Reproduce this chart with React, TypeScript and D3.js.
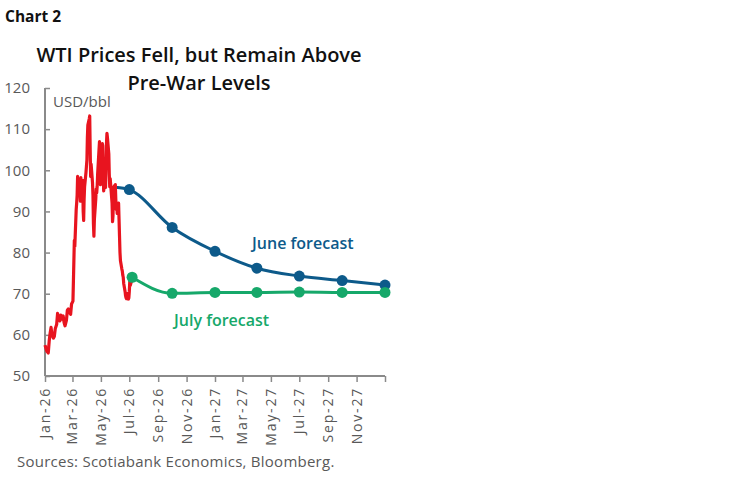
import React, { useEffect, useRef } from 'react';
import * as d3 from 'd3';

// WTI spot, USD/bbl
const wtiDates = [
  '2026-01-01','2026-01-05','2026-01-08','2026-01-10','2026-01-12','2026-01-14','2026-01-16','2026-01-19',
  '2026-01-21','2026-01-23','2026-01-26','2026-01-28','2026-01-30','2026-02-02','2026-02-04','2026-02-06',
  '2026-02-09','2026-02-11','2026-02-13','2026-02-16','2026-02-18','2026-02-20','2026-02-23','2026-02-25',
  '2026-02-27','2026-03-02','2026-03-03','2026-03-04','2026-03-05','2026-03-06','2026-03-09','2026-03-10',
  '2026-03-11','2026-03-12','2026-03-13','2026-03-16','2026-03-17','2026-03-18','2026-03-19','2026-03-20',
  '2026-03-23','2026-03-24','2026-03-25','2026-03-26','2026-03-27','2026-03-30','2026-03-31','2026-04-01',
  '2026-04-02','2026-04-03','2026-04-06','2026-04-07','2026-04-08','2026-04-09','2026-04-10','2026-04-13',
  '2026-04-14','2026-04-15','2026-04-16','2026-04-17','2026-04-20','2026-04-21','2026-04-22','2026-04-23',
  '2026-04-24','2026-04-27','2026-04-28','2026-04-29','2026-04-30','2026-05-01','2026-05-04','2026-05-05',
  '2026-05-06','2026-05-07','2026-05-08','2026-05-11','2026-05-12','2026-05-13','2026-05-14','2026-05-15',
  '2026-05-18','2026-05-19','2026-05-20','2026-05-21','2026-05-22','2026-05-25','2026-05-26','2026-05-27',
  '2026-05-28','2026-05-29','2026-06-01','2026-06-02','2026-06-03','2026-06-04','2026-06-05','2026-06-08',
  '2026-06-09','2026-06-10','2026-06-11','2026-06-12','2026-06-15','2026-06-16','2026-06-17','2026-06-18',
  '2026-06-19','2026-06-22','2026-06-23','2026-06-24','2026-06-25','2026-06-26','2026-06-29','2026-06-30',
  '2026-07-01','2026-07-02','2026-07-03','2026-07-06'
];
const wtiValues = [
  57.5, 56, 55.6, 58.5, 60.4, 61.8, 60, 59.2,
  59.6, 61.5, 62.5, 65.2, 64, 63.4, 64.8, 63.8,
  64.6, 63, 62.2, 63.5, 66, 66.3, 65.4, 65,
  67.5, 68.2, 73, 78, 83, 81.5, 90.5, 92,
  94, 98.5, 96, 97.2, 95.5, 92.5, 98.2, 96.5,
  97.5, 90, 87.8, 93, 96, 99.5, 101, 102.5,
  108, 111, 112.5, 113.2, 105, 98.5, 101.5, 97,
  94, 87, 84, 88, 93, 95.5, 94.5, 96,
  99, 105, 107, 101, 96.5, 99, 106.5, 106,
  100, 95, 97, 95.8, 101, 106.5, 109, 108,
  104, 99, 96, 98, 96.5, 92, 87.5, 89,
  94, 96, 96.5, 93, 90.5, 92, 89.5, 92,
  88, 84, 80, 78, 76, 75.5, 74.5, 74,
  72.5, 70.5, 69.5, 69, 68.8, 70, 68.7, 69,
  70.5, 73, 72, 73.2
];

// June forecast
const juneDates = ['2026-06-01','2026-07-01','2026-10-01','2027-01-01','2027-04-01','2027-07-01','2027-10-01','2028-01-01'];
const juneValues = [95.9, 95.3, 86.1, 80.3, 76.2, 74.3, 73.2, 72.1];
const juneMarked = [false, true, true, true, true, true, true, true];

// July forecast
const julyDates = ['2026-07-07','2026-10-01','2027-01-01','2027-04-01','2027-07-01','2027-10-01','2028-01-01'];
const julyValues = [74.0, 70.1, 70.3, 70.3, 70.4, 70.3, 70.3];

const yTicks = [50, 60, 70, 80, 90, 100, 110, 120];

const RED = '#e8141f';
const BLUE = '#0d5a8a';
const GREEN = '#16a86a';
const GREY_TEXT = '#595959';
const AXIS = '#8a8a8a';
const FONT = '"Open Sans", "Noto Sans", sans-serif';

export default function App() {
  const ref = useRef<SVGSVGElement>(null);

  useEffect(() => {
    const svg = d3.select(ref.current);
    svg.selectAll('*').remove();

    const parse = d3.utcParse('%Y-%m-%d');
    const x = d3.scaleUtc()
      .domain([parse('2026-01-01')!, parse('2028-01-01')!])
      .range([45, 385]);
    const y = d3.scaleLinear().domain([50, 120]).range([376, 88]);

    svg.append('rect').attr('width', 749).attr('height', 482).attr('fill', '#fff');

    // headings
    svg.append('text')
      .attr('x', 5).attr('y', 22)
      .style('font-family', FONT).style('font-weight', '700').style('font-size', '15.5px')
      .attr('fill', '#111')
      .text('Chart 2');

    const title = svg.append('text')
      .attr('text-anchor', 'middle')
      .style('font-family', FONT).style('font-weight', '600').style('font-size', '20px')
      .attr('fill', '#111');
    title.append('tspan').attr('x', 199).attr('y', 62).text('WTI Prices Fell, but Remain Above');
    title.append('tspan').attr('x', 199).attr('y', 90).text('Pre-War Levels');

    // y axis
    const yAxis = svg.append('g').attr('transform', 'translate(45,0)')
      .call(d3.axisRight(y).tickValues(yTicks).tickSize(5).tickFormat(() => ''));
    yAxis.select('.domain').attr('stroke', AXIS).attr('stroke-width', 2).attr('d', `M0,${y(120)}V${y(50)}`);
    yAxis.selectAll('.tick line').attr('stroke', AXIS).attr('stroke-width', 1.5);

    svg.append('g').selectAll('text')
      .data(yTicks)
      .enter()
      .append('text')
      .attr('x', 30)
      .attr('y', (d) => y(d))
      .attr('dy', '0.35em')
      .attr('text-anchor', 'end')
      .style('font-family', FONT).style('font-size', '15px')
      .attr('fill', GREY_TEXT)
      .text((d) => d);

    svg.append('text')
      .attr('x', 53).attr('y', 107)
      .style('font-family', FONT).style('font-size', '15px')
      .attr('fill', GREY_TEXT)
      .text('USD/bbl');

    // x axis
    const xTicks = d3.utcMonth.range(parse('2026-01-01')!, parse('2028-01-02')!, 2);
    const xAxis = svg.append('g').attr('transform', `translate(0,${y(50)})`)
      .call(d3.axisBottom(x).tickValues(xTicks).tickSize(6).tickFormat(() => ''));
    xAxis.select('.domain').attr('stroke', AXIS).attr('stroke-width', 2).attr('d', `M${x.range()[0]},0H${x.range()[1]}`);
    xAxis.selectAll('.tick line').attr('stroke', AXIS).attr('stroke-width', 1.5);

    const fmt = d3.utcFormat('%b-%y');
    svg.append('g').selectAll('text')
      .data(xTicks.slice(0, -1))
      .enter()
      .append('text')
      .attr('transform', (d) => `translate(${x(d) + 5},387) rotate(-90)`)
      .attr('text-anchor', 'end')
      .style('font-family', FONT).style('font-size', '14px').style('letter-spacing', '1.8px')
      .attr('fill', GREY_TEXT)
      .text((d) => fmt(d));

    // series
    const wti = wtiDates.map((d, i) => ({ date: parse(d)!, value: wtiValues[i] }));
    const june = juneDates.map((d, i) => ({ date: parse(d)!, value: juneValues[i], marked: juneMarked[i] }));
    const july = julyDates.map((d, i) => ({ date: parse(d)!, value: julyValues[i] }));

    const straight = d3.line<{ date: Date; value: number }>()
      .x((d) => x(d.date))
      .y((d) => y(d.value));
    const smooth = d3.line<{ date: Date; value: number }>()
      .x((d) => x(d.date))
      .y((d) => y(d.value))
      .curve(d3.curveMonotoneX);

    svg.append('path').datum(june)
      .attr('d', smooth).attr('fill', 'none').attr('stroke', BLUE).attr('stroke-width', 3);
    svg.append('g').selectAll('circle')
      .data(june.filter((d) => d.marked))
      .enter()
      .append('circle')
      .attr('cx', (d) => x(d.date)).attr('cy', (d) => y(d.value)).attr('r', 5.5)
      .attr('fill', BLUE);

    svg.append('path').datum(wti)
      .attr('d', straight).attr('fill', 'none').attr('stroke', RED).attr('stroke-width', 3.2)
      .attr('stroke-linejoin', 'round');

    svg.append('path').datum(july)
      .attr('d', smooth).attr('fill', 'none').attr('stroke', GREEN).attr('stroke-width', 3);
    svg.append('g').selectAll('circle')
      .data(july)
      .enter()
      .append('circle')
      .attr('cx', (d) => x(d.date)).attr('cy', (d) => y(d.value)).attr('r', 5.5)
      .attr('fill', GREEN);

    // series labels
    svg.append('text')
      .attr('x', 252).attr('y', 249)
      .style('font-family', FONT).style('font-weight', '600').style('font-size', '16px')
      .attr('fill', BLUE)
      .text('June forecast');
    svg.append('text')
      .attr('x', 174).attr('y', 326)
      .style('font-family', FONT).style('font-weight', '600').style('font-size', '16px')
      .attr('fill', GREEN)
      .text('July forecast');

    svg.append('text')
      .attr('x', 17).attr('y', 467)
      .style('font-family', FONT).style('font-size', '15px').style('letter-spacing', '0.25px')
      .attr('fill', GREY_TEXT)
      .text('Sources: Scotiabank Economics, Bloomberg.');
  }, []);

  return (
    <svg
      ref={ref}
      width={749}
      height={482}
      style={{ position: 'absolute', left: 0, top: 0 }}
    />
  );
}
